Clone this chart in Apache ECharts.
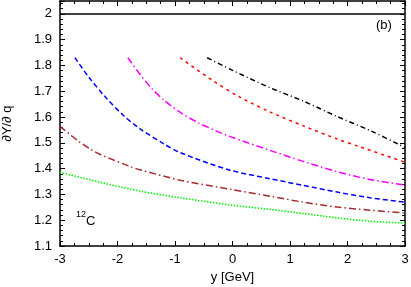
<!DOCTYPE html>
<html><head><meta charset="utf-8">
<script src="https://cdn.jsdelivr.net/npm/echarts@6/dist/echarts.min.js"></script>
<style>html,body{margin:0;padding:0;background:#fff}#c{width:411px;height:287px}</style>
</head><body><div id="c"></div>
<script>
const xTicks = [-3, -2, -1, 0, 1, 2, 3];
const yTicks = [1.1, 1.2, 1.3, 1.4, 1.5, 1.6, 1.7, 1.8, 1.9, 2];

const refX = [-3, 3];
const refY = [2.0, 2.0];

const blackX = [-0.44, 0.01, 0.65, 1.23, 1.82, 2.39, 2.91, 3.0];
const blackY = [1.830, 1.780, 1.714, 1.662, 1.602, 1.548, 1.492, 1.483];

const redX = [-0.91, -0.34, 0.13, 0.65, 1.23, 1.82, 2.22, 3.0];
const redY = [1.830, 1.741, 1.677, 1.620, 1.566, 1.515, 1.484, 1.425];

const magentaX = [-1.82, -1.6, -1.4, -1.2, -0.9, -0.6, -0.3, -0.04, 0.65, 1.23, 1.82, 2.39, 3.0];
const magentaY = [1.830, 1.763, 1.710, 1.667, 1.617, 1.578, 1.548, 1.524, 1.471, 1.428, 1.388, 1.358, 1.336];

const blueX = [-2.74, -2.5, -2.2, -1.9, -1.6, -1.2, -0.91, -0.04, 0.65, 1.23, 1.82, 2.39, 3.0];
const blueY = [1.830, 1.755, 1.675, 1.607, 1.553, 1.497, 1.462, 1.394, 1.361, 1.335, 1.309, 1.287, 1.270];

const brownX = [-3, -2.70, -2.48, -2.30, -1.78, -1.61, -0.91, -0.04, 0.65, 1.23, 1.82, 2.39, 3.0];
const brownY = [1.564, 1.510, 1.477, 1.455, 1.408, 1.396, 1.355, 1.320, 1.293, 1.270, 1.251, 1.239, 1.228];

const greenX = [-3, -2.30, -1.61, -0.91, -0.04, 0.65, 1.23, 1.82, 2.39, 3.0];
const greenY = [1.386, 1.347, 1.313, 1.287, 1.259, 1.242, 1.226, 1.209, 1.196, 1.189];

const zip = (xs, ys) => xs.map((x, i) => [x, ys[i]]);
const font = 'Liberation Sans, Arial, sans-serif';

function line(name, xs, ys, color, dash, smooth) {
  return {
    name, type: 'line', data: zip(xs, ys), showSymbol: false, symbol: 'none',
    smooth: smooth, silent: true,
    lineStyle: { color, width: 1.5, type: dash }
  };
}

const chart = echarts.init(document.getElementById('c'), null, { renderer: 'canvas' });
const axisCommon = {
  axisLine: { show: true, onZero: false, lineStyle: { color: '#000', width: 1.5 } },
  axisTick: { show: true, inside: true, length: 5, lineStyle: { color: '#000' } },
  minorTick: { show: true, length: 3, lineStyle: { color: '#000' } },
  splitLine: { show: false }
};
chart.setOption({
  animation: false,
  grid: { left: 60, right: 6, top: 1, bottom: 41, containLabel: false, outerBoundsMode: 'none' },
  xAxis: [
    Object.assign({}, axisCommon, {
      type: 'value', min: xTicks[0], max: xTicks[xTicks.length - 1], interval: 1, position: 'bottom',
      minorTick: Object.assign({}, axisCommon.minorTick, { splitNumber: 4 }),
      axisLabel: { color: '#000', fontSize: 13, fontFamily: font, margin: 7 },
      name: 'y [GeV]', nameLocation: 'middle', nameGap: 23,
      nameTextStyle: { color: '#000', fontSize: 13, fontFamily: font }
    }),
    Object.assign({}, axisCommon, {
      type: 'value', min: xTicks[0], max: xTicks[xTicks.length - 1], interval: 1, position: 'top',
      minorTick: Object.assign({}, axisCommon.minorTick, { splitNumber: 4 }),
      axisLabel: { show: false }
    })
  ],
  yAxis: [
    Object.assign({}, axisCommon, {
      type: 'value', min: 1.1, max: 2.05, interval: 0.1, position: 'left',
      minorTick: Object.assign({}, axisCommon.minorTick, { splitNumber: 5 }),
      axisLabel: { color: '#000', fontSize: 13, fontFamily: font, margin: 8, showMaxLabel: false,
        formatter: v => { const r = Math.round(v * 10) / 10; return yTicks.some(t => Math.abs(t - r) < 1e-6 && Math.abs(v - r) < 1e-6) ? String(r) : ''; } },
      name: '\u2202Y/\u2202 q', nameLocation: 'middle', nameGap: 46, nameRotate: 90,
      nameTextStyle: { color: '#000', fontSize: 13, fontFamily: font }
    }),
    Object.assign({}, axisCommon, {
      type: 'value', min: 1.1, max: 2.05, interval: 0.1, position: 'right',
      minorTick: Object.assign({}, axisCommon.minorTick, { splitNumber: 5 }),
      axisLabel: { show: false }
    })
  ],
  series: [
    line('ref', refX, refY, '#000', 'solid', false),
    line('black', blackX, blackY, '#000', [5, 3, 1, 3], 0.3),
    line('red', redX, redY, '#ff0000', [3, 4], 0.3),
    line('magenta', magentaX, magentaY, '#ff00ff', [7, 3, 1.5, 3], 0.3),
    line('blue', blueX, blueY, '#0000ff', [5, 3], 0.3),
    line('brown', brownX, brownY, '#a52a2a', [7, 3, 1.5, 3], 0.3),
    line('green', greenX, greenY, '#00ee00', [1.5, 1.5], 0.3)
  ],
  graphic: [
    { type: 'text', left: 376, top: 19, style: { text: '(b)', fontSize: 13, fontFamily: font, fill: '#000' } },
    { type: 'text', left: 76, top: 210, style: {
      text: '{s|12}{n|C}', fontFamily: font, fill: '#000',
      rich: { s: { fontSize: 9, fontFamily: font, verticalAlign: 'top', lineHeight: 18 }, n: { fontSize: 13, fontFamily: font, verticalAlign: 'bottom', lineHeight: 18 } }
    } }
  ]
});
</script></body></html>
